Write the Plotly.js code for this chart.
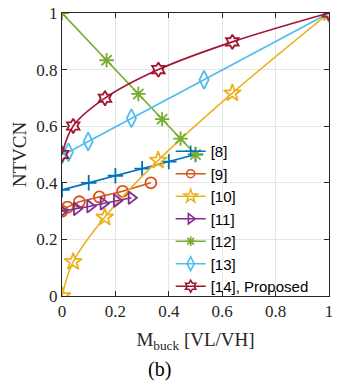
<!DOCTYPE html>
<html><head><meta charset="utf-8">
<script src="https://cdn.plot.ly/plotly-3.0.1.min.js"></script>
<style>html,body{margin:0;padding:0;background:#fff}#chart{width:347px;height:387px}</style>
</head><body><div id="chart"></div>
<script>
const names = ['[8]','[9]','[10]','[11]','[12]','[13]','[14], Proposed'];
const x8 = [0,0.1,0.2,0.3,0.4,0.5];
const y8 = [0.375,0.4,0.425,0.45,0.475,0.5];
const x9 = [0,0.021,0.065,0.14,0.227,0.333];
const y9 = [0.3,0.314,0.333,0.35,0.37,0.4];
const x10 = [0,0.042,0.16,0.36,0.638,1];
const y10 = [0,0.121,0.278,0.479,0.717,1];
const x11 = [0,0.055,0.105,0.155,0.205,0.26];
const y11 = [0.3,0.308,0.317,0.327,0.337,0.347];
const x12 = [0,0.167,0.286,0.375,0.444,0.5];
const y12 = [1,0.833,0.714,0.625,0.556,0.5];
const x13 = [0,0.024,0.098,0.26,0.532,1];
const y13 = [0.5,0.508,0.546,0.628,0.764,1];
const x14 = [0,0.042,0.161,0.361,0.638,1];
const y14 = [0.5,0.601,0.699,0.8,0.898,1];
const xTicks = [0,0.2,0.4,0.6,0.8,1];
const yTicks = [0,0.2,0.4,0.6,0.8,1];
const tickText = ['0','0.2','0.4','0.6','0.8','1'];

const colors = ['#0072BD','#D95319','#EDB120','#7E2F8E','#77AC30','#4DBEEE','#A2142F'];
const symbols = ['cross-thin-open','circle-open','star-open','triangle-right-open','asterisk-open','diamond-tall-open','hexagram-open'];
const sizes = [11,11,13,11,12,13,11];
const legSizes = [8,8,10,9,8,10,9];
const shapes = ['linear','linear','spline','linear','linear','linear','spline'];
const xs = [x8,x9,x10,x11,x12,x13,x14];
const ys = [y8,y9,y10,y11,y12,y13,y14];

const traces = names.map((n,i)=>({
  x: xs[i], y: ys[i], name: n, type:'scatter', mode:'lines+markers', showlegend:false,
  line:{color:colors[i], width:1.6, shape:shapes[i]},
  marker:{symbol:symbols[i], size:sizes[i], color:colors[i], line:{color:colors[i], width:1.8}}
}));
const legendTraces = names.map((n,i)=>({
  x:[null], y:[null], name:n, type:'scatter', mode:'lines+markers', showlegend:true,
  line:{color:colors[i], width:1.6},
  marker:{symbol:symbols[i], size:legSizes[i], color:colors[i], line:{color:colors[i], width:1.6}}
}));

const serif = 'Liberation Serif, Times New Roman, serif';
const layout = {
  width:347, height:387,
  margin:{l:62, r:17.5, t:13, b:91},
  paper_bgcolor:'#fff', plot_bgcolor:'#fff',
  showlegend:true,
  legend:{x:0.407, y:0.569, xanchor:'left', yanchor:'top', bgcolor:'rgba(0,0,0,0)', borderwidth:0,
    font:{family:'Liberation Sans, Arial, sans-serif', size:15, color:'#000'}, tracegroupgap:0},
  xaxis:{range:[0,1], tickvals:xTicks, ticktext:tickText, ticks:'inside', ticklen:5, tickcolor:'#262626',
    showline:true, linecolor:'#262626', linewidth:1, mirror:'ticks', showgrid:true, gridcolor:'#e6e6e6',
    zeroline:false, tickfont:{family:serif, size:17, color:'#262626'},
    title:{text:'M<sub>buck</sub> [VL/VH]', font:{family:serif, size:19, color:'#262626'}, standoff:12}},
  yaxis:{range:[0,1], tickvals:yTicks, ticktext:tickText, ticks:'inside', ticklen:5, tickcolor:'#262626',
    showline:true, linecolor:'#262626', linewidth:1, mirror:'ticks', showgrid:true, gridcolor:'#e6e6e6',
    zeroline:false, tickfont:{family:serif, size:17, color:'#262626'},
    title:{text:'NTVCN', font:{family:serif, size:19, color:'#262626'}, standoff:4}},
  annotations:[{text:'(b)', xref:'paper', yref:'paper', x:0.367, y:-0.261, xanchor:'center', yanchor:'middle',
    showarrow:false, font:{family:serif, size:20, color:'#000'}}]
};
Plotly.newPlot('chart', traces.concat(legendTraces), layout, {displayModeBar:false, staticPlot:true});
</script></body></html>
